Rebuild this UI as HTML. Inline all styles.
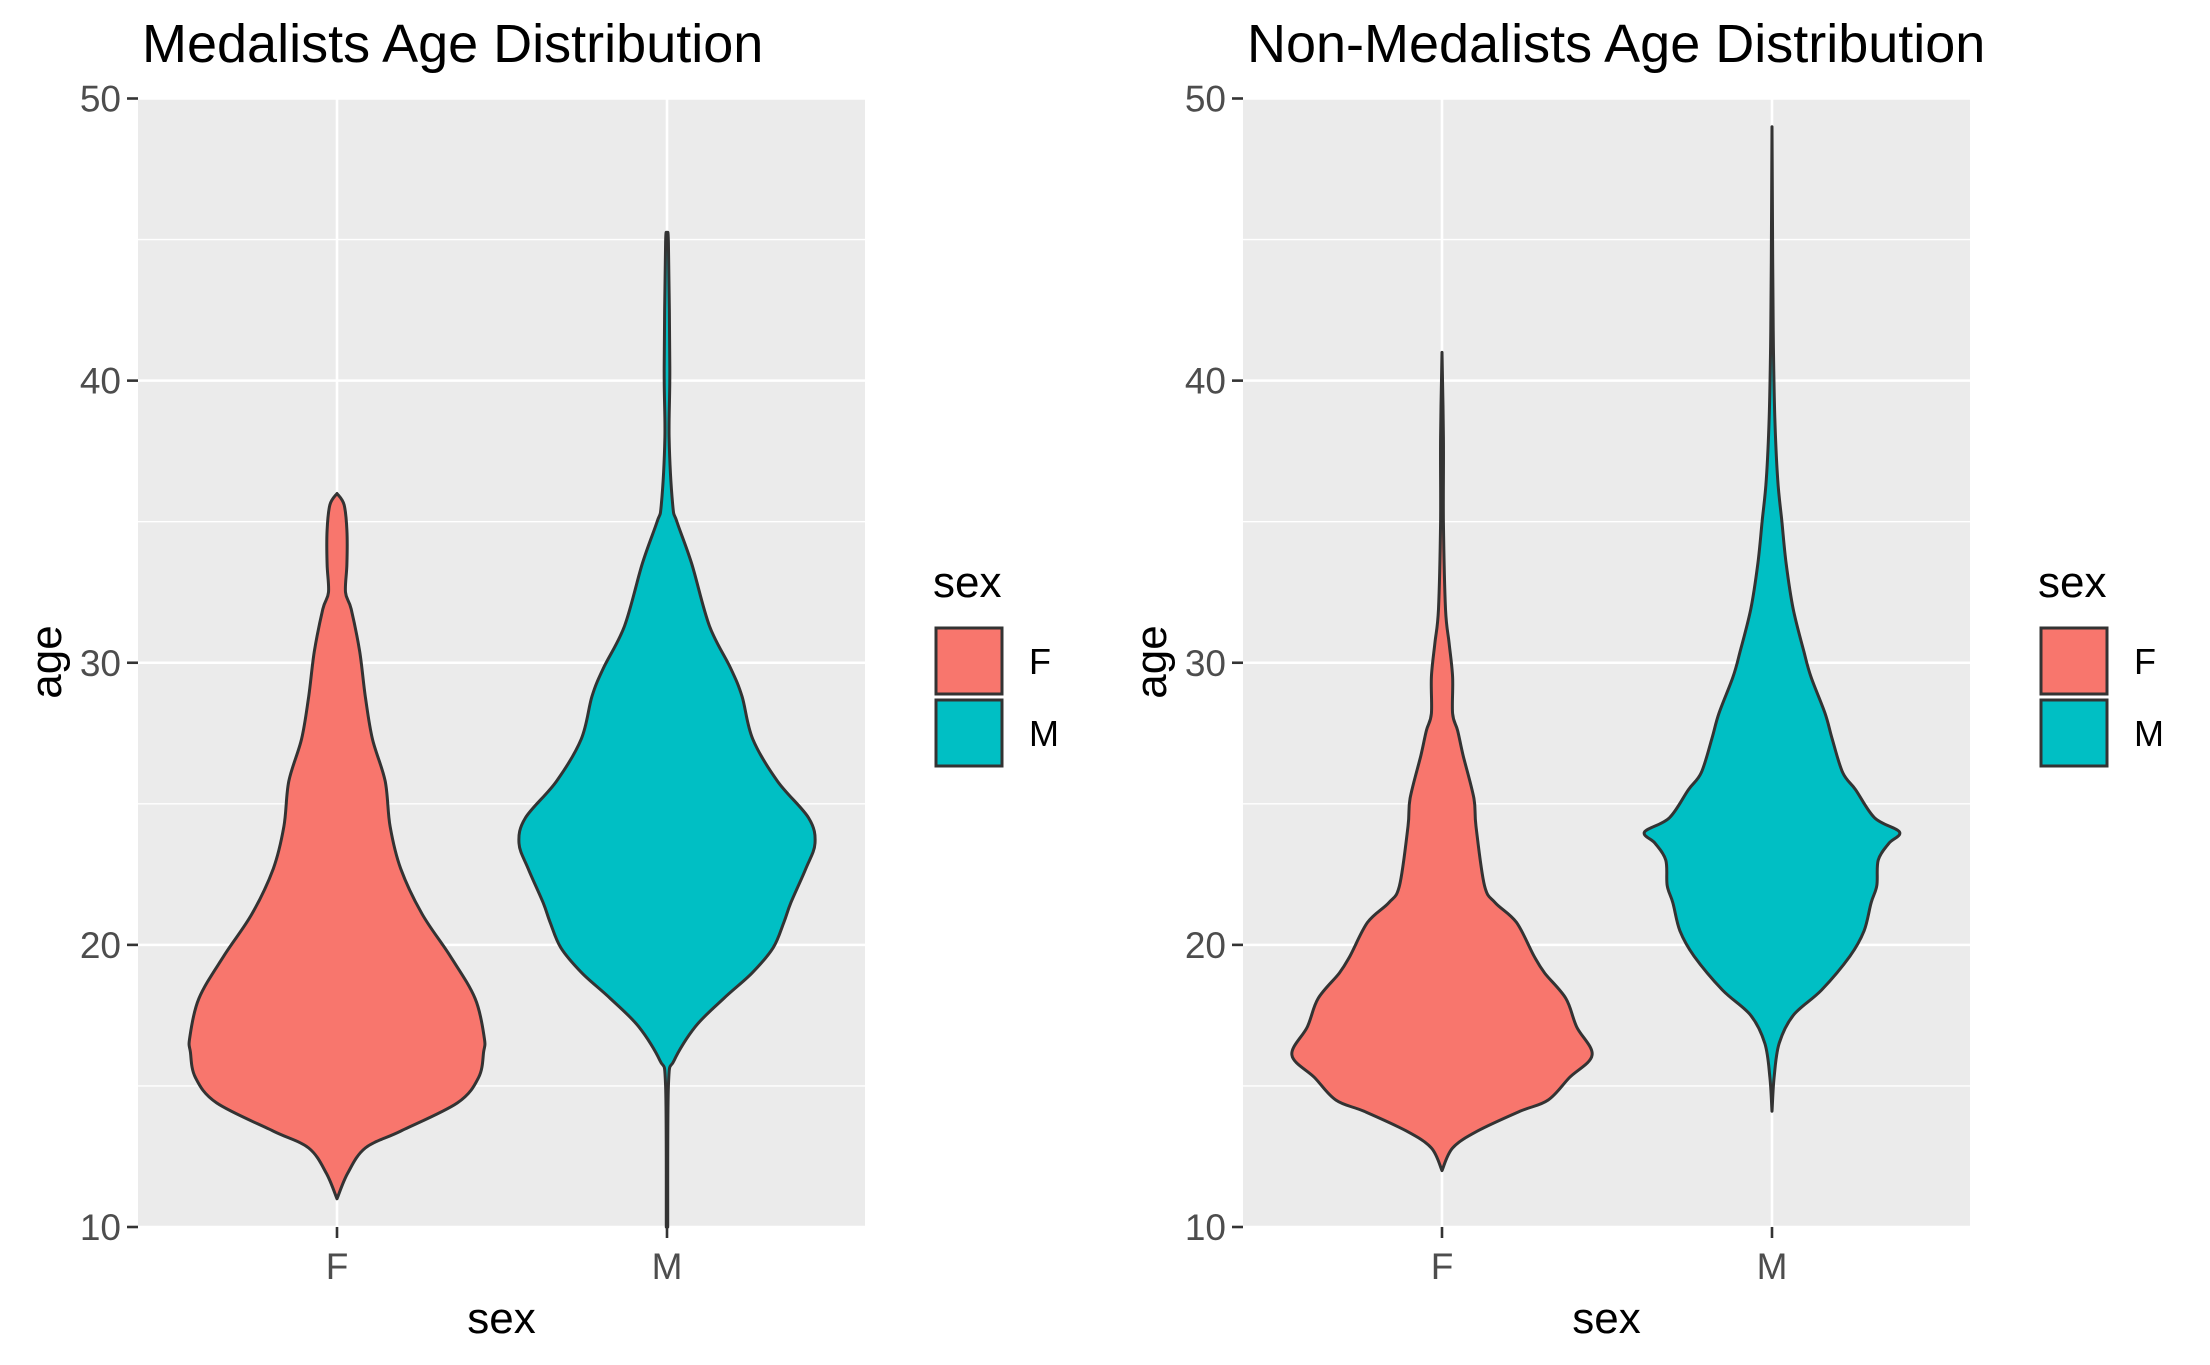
<!DOCTYPE html>
<html><head><meta charset="utf-8"><style>
html,body{margin:0;padding:0;background:#fff;}
svg{display:block;font-family:"Liberation Sans",Arial,sans-serif;}
</style></head><body>
<svg id="chart" width="2210" height="1365" viewBox="0 0 2210 1365" xmlns="http://www.w3.org/2000/svg"></svg>
<script>
const categories = ["F","M"];
const yTicks = [10,20,30,40,50];
const yMinor = [15,25,35,45];
const panelTitles = ["Medalists Age Distribution","Non-Medalists Age Distribution"];
// age samples and relative density (half-width) for each violin
const medF_age = [11.0,11.9,12.8,13.4,14.4,15.3,16.2,16.7,18.1,19.6,21.1,22.7,24.2,25.8,27.3,28.8,30.4,31.9,32.5,33.5,34.7,35.6,36.0];
const medF_den = [0,15,40,90,170,200,207,208,195,160,120,90,75,68,50,40,32,20,12,14,14,10,0];
const medM_age = [10,15,15.9,17.1,18.1,19.0,19.9,20.8,21.5,22.7,23.6,24.5,25.8,27.3,28.8,29.8,31.3,33.5,35.0,35.6,38.0,40.5,44.9,45];
const medM_den = [1,2,10,40,80,120,150,165,175,196,209,200,156,121,106,90,60,35,14,8,3,4,2,0];
const nonF_age = [12,12.8,13.4,14.1,14.5,15.3,16.1,17.1,18.1,19.0,19.6,20.8,21.5,22.1,24.2,25.2,26.7,27.6,28.2,29.5,30.7,31.9,35,38,41];
const nonF_den = [0,15,50,110,150,180,212,190,175,145,130,105,75,60,48,45,30,22,15,15,10,5,2,2,0];
const nonM_age = [14.1,15.3,16.5,17.5,18.4,19.6,20.5,21.5,22.1,23.0,23.6,24.0,24.5,25.5,26.1,27.3,28.2,29.5,30.4,31.9,33.5,35.0,36.5,38.7,41.2,44.2,49];
const nonM_den = [0,3,10,30,70,110,130,140,148,150,165,180,145,118,100,85,75,55,45,30,20,14,8,4,2,1,0];

const svg = document.getElementById('chart');
const NS = "http://www.w3.org/2000/svg";
function mk(tag, attrs, parent){const e=document.createElementNS(NS,tag);for(const k in attrs)e.setAttribute(k,attrs[k]);(parent||svg).appendChild(e);return e;}

const Y0 = 1227, Y1 = 98.5;
const yScale = v => Y0 - (v-10)*(Y0-Y1)/40;
const denScale = d => d/1.412;
const colors = ["#F8766D","#00BFC4"];

function smoothPath(pts){
  let d = "M"+pts[0][0].toFixed(1)+","+pts[0][1].toFixed(1);
  for(let i=0;i<pts.length-1;i++){
    const p0=pts[Math.max(0,i-1)],p1=pts[i],p2=pts[i+1],p3=pts[Math.min(pts.length-1,i+2)];
    const c1=[p1[0]+(p2[0]-p0[0])/6,p1[1]+(p2[1]-p0[1])/6];
    const c2=[p2[0]-(p3[0]-p1[0])/6,p2[1]-(p3[1]-p1[1])/6];
    d+=" C"+c1[0].toFixed(1)+","+c1[1].toFixed(1)+" "+c2[0].toFixed(1)+","+c2[1].toFixed(1)+" "+p2[0].toFixed(1)+","+p2[1].toFixed(1);
  }
  return d;
}

function panel(off, title, violins){
  const g = mk('g',{});
  
  
  const x0=off+138, x1=off+865;
  const xScale = i => off + 337 + i*330;
  const bg = mk('rect',{x:x0,y:Y1,width:x1-x0,height:Y0-Y1,fill:"#EBEBEB"},g);
  
  
  yMinor.forEach(v=>{const l=mk('line',{x1:x0,x2:x1,y1:yScale(v),y2:yScale(v),stroke:"#fff","stroke-width":1.3},g);
    
    });
  yTicks.forEach(v=>{const l=mk('line',{x1:x0,x2:x1,y1:yScale(v),y2:yScale(v),stroke:"#fff","stroke-width":2.6},g);
    
    
    const t=mk('line',{x1:x0-11,x2:x0,y1:yScale(v),y2:yScale(v),stroke:"#333","stroke-width":2.6},g);
    
    
    const tx=mk('text',{x:x0-17,y:yScale(v)+13,"text-anchor":"end","font-size":37,fill:"#4D4D4D"},g);tx.textContent=v;
    
    });
  categories.forEach((c,i)=>{
    const x=xScale(i);
    const l=mk('line',{x1:x,x2:x,y1:Y1,y2:Y0,stroke:"#fff","stroke-width":2.6},g);
    
    
    const t=mk('line',{x1:x,x2:x,y1:Y0,y2:Y0+11,stroke:"#333","stroke-width":2.6},g);
    
    
    const tx=mk('text',{x:x,y:1279,"text-anchor":"middle","font-size":37,fill:"#4D4D4D"},g);tx.textContent=c;
    
    
  });
  violins.forEach((v,i)=>{
    const cx=xScale(i);
    const right=v[0].map((a,j)=>[cx+denScale(v[1][j]),yScale(a)]);
    const left=v[0].map((a,j)=>[cx-denScale(v[1][j]),yScale(a)]).reverse();
    const d=smoothPath(right)+" L"+smoothPath(left).slice(1)+" Z";
    const p=mk('path',{d:d,fill:colors[i],stroke:"#333","stroke-width":3,"stroke-linejoin":"round"},g);
    
    
  });
  const tt=mk('text',{x:x0+4,y:62,"font-size":54,fill:"#000"},g);tt.textContent=title;
  
  
  const xt=mk('text',{x:(x0+x1)/2,y:1333,"text-anchor":"middle","font-size":44,fill:"#000"},g);xt.textContent="sex";
  
  
  const yt=mk('text',{x:0,y:0,"text-anchor":"middle","font-size":44,fill:"#000",transform:"translate("+(off+61)+",662) rotate(-90)"},g);yt.textContent="age";
  
  
  const lt=mk('text',{x:off+933,y:597,"font-size":44,fill:"#000"},g);lt.textContent="sex";
  
  
  categories.forEach((c,i)=>{
    const r=mk('rect',{x:off+936,y:628+i*72,width:66,height:66,fill:colors[i],stroke:"#333","stroke-width":3},g);
    
    
    const lx=mk('text',{x:off+1029,y:674+i*72,"font-size":36,fill:"#000"},g);lx.textContent=c;
    
    
  });
}
panel(0, panelTitles[0], [[medF_age,medF_den],[medM_age,medM_den]]);
panel(1105, panelTitles[1], [[nonF_age,nonF_den],[nonM_age,nonM_den]]);
</script>
</body></html>
